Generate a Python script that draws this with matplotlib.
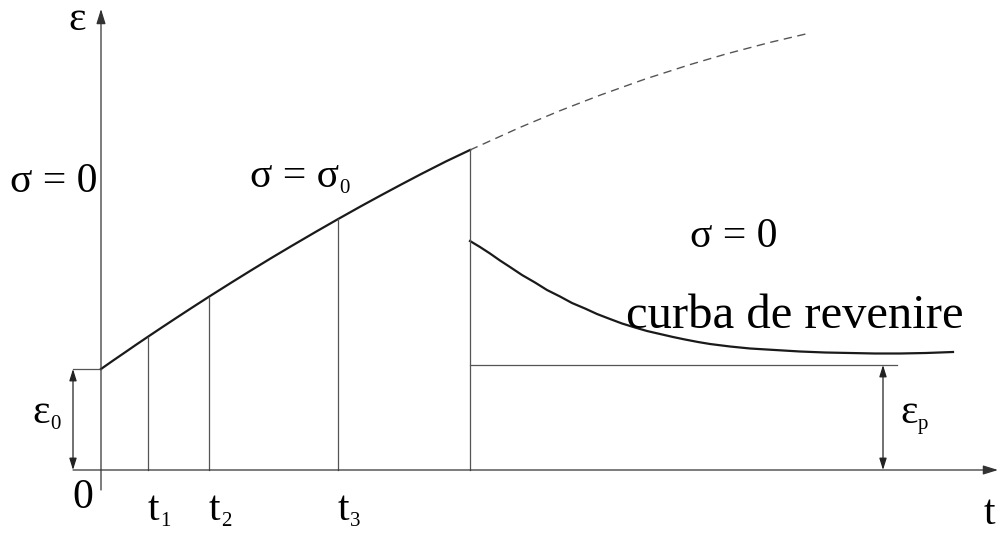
import matplotlib
matplotlib.use("Agg")
import matplotlib.pyplot as plt

plt.rcParams['font.family'] = ['Liberation Serif', 'DejaVu Serif']

# creep curve under constant stress sigma0 (time, strain)
t_creep = [0, 12, 25, 35, 47, 60, 75, 90, 108, 130, 150, 170, 190, 215, 237,
           260, 280, 300, 320, 345, 369]
eps_creep = [101, 109.4, 118.3, 125.2, 133.3, 142, 151.9, 161.7, 173.3, 187.2,
             199.6, 211.8, 223.7, 238.3, 250.9, 263.8, 274.7, 285.4, 295.9,
             308.6, 320]

# continuation if the load were kept on
t_cont = [369, 419, 459, 499, 544, 589, 625, 669, 706]
eps_cont = [320, 342.6, 359.3, 374.8, 390.9, 405.4, 416, 427.6, 436.3]

# recovery after unloading
t_rec = [369, 379, 389, 399, 409, 421, 434, 446, 459, 471, 484, 496, 509, 521,
         534, 546, 559, 572, 584, 597, 609, 629, 649, 674, 699, 724, 749, 774,
         799, 825, 852]
eps_rec = [229, 223, 216.5, 209.5, 203, 195, 187.5, 180, 173.5, 167, 161.5,
           156, 151, 146.5, 142.5, 139, 136, 133, 130.5, 128, 126, 123.5,
           121.5, 120, 118.5, 117.5, 117, 116.5, 116.5, 117, 118]

t_marks = [47, 108, 237]
t_marks_sub = ['1', '2', '3']
t_unload = 369
eps0 = 101
eps_p = 105

fig = plt.figure(figsize=(10.06, 5.33), dpi=100)
ax = fig.add_axes([0, 0, 1, 1])
ax.set_xlim(-101, 905)
ax.set_ylim(-63, 470)
ax.axis('off')

thin = dict(color='#555555', lw=0.9)
thick = dict(color='#1a1a1a', lw=1.6, solid_joinstyle='round')

# axes with arrow heads
arr = dict(arrowstyle='-|>,head_length=0.9,head_width=0.28',
           color='#333333', lw=0.9, shrinkA=0, shrinkB=0)
ax.annotate('', xy=(897, 0), xytext=(-28, 0), arrowprops=arr)
ax.annotate('', xy=(0, 461), xytext=(0, -20), arrowprops=arr)

# curves
ax.plot(t_creep, eps_creep, **thick)
ax.plot(t_cont, eps_cont, color='#555555', lw=1.0, ls=(0, (6, 4)))
ax.plot(t_rec, eps_rec, **thick)

# vertical guides
for tm in t_marks:
    ax.plot([tm, tm], [0, eps_creep[t_creep.index(tm)]], **thin)
ax.plot([t_unload, t_unload], [0, eps_creep[-1]], **thin)

# eps0 and eps_p levels
ax.plot([-28, 0], [eps0, eps0], **thin)
ax.plot([t_unload, 796], [eps_p, eps_p], **thin)
dbl = dict(arrowstyle='<|-|>,head_length=0.7,head_width=0.22',
           color='#222222', lw=0.9, shrinkA=0, shrinkB=0)
ax.annotate('', xy=(-28, 0), xytext=(-28, eps0), arrowprops=dbl)
ax.annotate('', xy=(782, 0), xytext=(782, eps_p), arrowprops=dbl)

fs = 30
sfs = 15


def sub_label(x, y, main, sub):
    # main symbol plus a small subscript glued to its right edge
    t = ax.text(x, y, main, fontsize=fs, ha='left', va='baseline')
    ax.annotate(sub, xy=(1, 0), xycoords=t, xytext=(0.5, -1.5),
                textcoords='offset points', fontsize=sfs,
                ha='left', va='bottom')


ax.text(-24, 450, 'ε', fontsize=fs, ha='center', va='center')
ax.text(-47, 278, 'σ = 0', fontsize=fs, ha='center', va='baseline')
sub_label(149, 283, 'σ = σ', '0')
ax.text(633, 223, 'σ = 0', fontsize=fs, ha='center', va='baseline')
ax.text(694, 142, 'curba de revenire', fontsize=35, ha='center', va='baseline')
sub_label(-69, 47, 'ε', '0')
sub_label(799, 47, 'ε', 'p')
ax.text(-18, -28, '0', fontsize=fs, ha='center', va='center')
for tm, s in zip(t_marks, t_marks_sub):
    sub_label(tm, -50, 't', s)
ax.text(888, -44, 't', fontsize=fs, ha='center', va='center')

fig.savefig('out.png', dpi=100)
